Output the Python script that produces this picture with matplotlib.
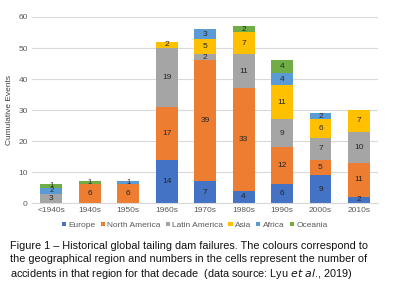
import numpy as np
import matplotlib
matplotlib.use("Agg")
import matplotlib.pyplot as plt

plt.rcParams["font.family"] = ["Liberation Sans", "DejaVu Sans"]

decades = ["<1940s", "1940s", "1950s", "1960s", "1970s", "1980s", "1990s", "2000s", "2010s"]
regions = ["Europe", "North America", "Latin America", "Asia", "Africa", "Oceania"]

europe = [0, 0, 0, 14, 7, 4, 6, 9, 2]
north_america = [0, 6, 6, 17, 39, 33, 12, 5, 11]
latin_america = [3, 0, 0, 19, 2, 11, 9, 7, 10]
asia = [0, 0, 0, 2, 5, 7, 11, 6, 7]
africa = [2, 0, 1, 0, 3, 0, 4, 2, 0]
oceania = [1, 1, 0, 0, 0, 2, 4, 0, 0]

colors = ["#4472C4", "#ED7D31", "#A5A5A5", "#FFC000", "#5B9BD5", "#70AD47"]
series = [europe, north_america, latin_america, asia, africa, oceania]

fig = plt.figure(figsize=(3.97, 2.93), dpi=100)
ax = fig.add_axes([0.0806, 0.307, 0.872, 0.635])

x = np.arange(len(decades))
bottom = np.zeros(len(decades))
for name, vals, col in zip(regions, series, colors):
    vals = np.array(vals, dtype=float)
    ax.bar(x, vals, 0.57, bottom=bottom, color=col, label=name, zorder=2)
    for xi, b, v in zip(x, bottom, vals):
        if v > 0:
            # tiny stacked segments (the <1940s bar) need a smaller font
            fs = 6 if bottom[xi] + v > 8 or b == 0 else 5.5
            ax.text(xi, b + v / 2, f"{int(v)}", ha="center", va="center",
                    fontsize=fs, color="#262626", zorder=3)
    bottom += vals

ax.set_xlim(-0.5, len(decades) - 0.5)
ax.set_ylim(0, 60)
ax.set_yticks(range(0, 61, 10))
ax.set_xticks(x)
ax.set_xticklabels(decades)
ax.tick_params(axis="both", length=0, labelsize=6, colors="#595959", pad=3)
ax.grid(axis="y", color="#D9D9D9", linewidth=0.8, zorder=0)
for s in ["top", "right", "left"]:
    ax.spines[s].set_visible(False)
ax.spines["bottom"].set_color("#D9D9D9")
ax.spines["bottom"].set_linewidth(0.8)
ax.set_ylabel("Cumulative Events", fontsize=6, color="#404040", labelpad=4)

ax.legend(loc="center", bbox_to_anchor=(0.47, -0.12),
          ncol=6, frameon=False, fontsize=6, handlelength=0.5, handleheight=0.5,
          handletextpad=0.3, columnspacing=0.6, labelcolor="#595959")

caption = ("Figure 1 \u2013 Historical global tailing dam failures. The colours correspond to\n"
           "the geographical region and numbers in the cells represent the number of\n"
           "accidents in that region for that decade  (data source: Lyu $\\it{et\\ al}$., 2019)")
fig.text(0.025, 0.178, caption, ha="left", va="top", fontsize=7.8,
         color="#111111", linespacing=1.35)

fig.savefig("out.png", dpi=100)
